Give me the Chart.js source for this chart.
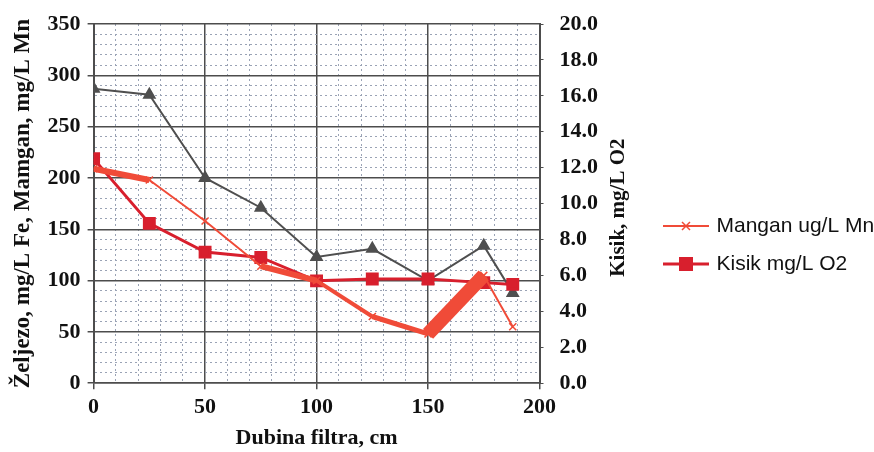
<!DOCTYPE html>
<html>
<head>
<meta charset="utf-8">
<script src="https://cdn.jsdelivr.net/npm/chart.js@4/dist/chart.umd.min.js"></script>
<style>
  html, body { margin: 0; padding: 0; background: #fff; }
  #wrap { width: 874px; height: 452px; }
</style>
</head>
<body>
<div id="wrap"><canvas id="chart" width="874" height="452"></canvas></div>
<script>
// depth of the filter (cm) and measured values
const depths = [0, 25, 50, 75, 100, 125, 150, 175, 188];
const zeljezo = [287, 281, 200, 171, 123, 131, 100, 134, 88];
const mangan = [209, 198, 158, 114, 100, 65, 48, 105, 55];
const kisik = [12.5, 8.9, 7.3, 7.0, 5.7, 5.8, 5.8, 5.6, 5.5];

const xTicks = [0, 50, 100, 150, 200];
const leftTicks = [0, 50, 100, 150, 200, 250, 300, 350];
const rightTicks = [0, 2, 4, 6, 8, 10, 12, 14, 16, 18, 20];

const MAJOR = "#4d4d4d";
const MINOR = "#9aa3b5";
const GREY = "#4f4f4f";
const MN_RED = "#f04b38";
const O2_RED = "#d81f2d";

// thick highlighter-like band on some Mangan segments (from the scan)
const manganSegWidth = [6, 2, 2, 6, 4, 5, 14, 2];

Chart.defaults.font.family = "'Liberation Serif', serif";
Chart.defaults.color = "#111";

function pts(ys) {
  return depths.map((d, i) => ({ x: d, y: ys[i] }));
}

function legendSwatch(color, style, lw, r) {
  const c = document.createElement("canvas");
  c.width = 46;
  c.height = 18;
  const g = c.getContext("2d");
  g.strokeStyle = color;
  g.fillStyle = color;
  g.lineWidth = lw;
  g.beginPath();
  g.moveTo(0, 9);
  g.lineTo(46, 9);
  g.stroke();
  if (style === "rect") {
    g.fillRect(23 - r, 9 - r, r * 2, r * 2);
  } else {
    g.lineWidth = 1.5;
    g.beginPath();
    g.moveTo(23 - r, 9 - r);
    g.lineTo(23 + r, 9 + r);
    g.moveTo(23 + r, 9 - r);
    g.lineTo(23 - r, 9 + r);
    g.stroke();
  }
  return c;
}

const isMajor = (v, step) => Math.abs(v % step) < 1e-6;

// right axis title reads bottom-to-top like the left one
const rightTitle = {
  id: "rightTitle",
  afterDraw(chart) {
    const s = chart.scales.y1;
    const ctx = chart.ctx;
    ctx.save();
    ctx.translate(s.right - 30, (s.top + s.bottom) / 2 + 4);
    ctx.rotate(-Math.PI / 2);
    ctx.font = "bold 21px 'Liberation Serif', serif";
    ctx.fillStyle = "#111";
    ctx.textAlign = "center";
    ctx.textBaseline = "middle";
    ctx.fillText("Kisik, mg/L O2", 0, 0);
    ctx.restore();
  }
};

new Chart(document.getElementById("chart"), {
  type: "line",
  data: {
    datasets: [
      {
        label: "Mangan ug/L Mn",
        data: pts(mangan),
        yAxisID: "y",
        borderColor: MN_RED,
        backgroundColor: MN_RED,
        borderWidth: 2,
        pointStyle: "crossRot",
        pointRadius: 5,
        pointBorderWidth: 1.5,
        segment: {
          borderWidth: (ctx) => manganSegWidth[ctx.p0DataIndex] || 2
        },
        swatch: legendSwatch(MN_RED, "cross", 2, 4)
      },
      {
        label: "Kisik mg/L O2",
        data: pts(kisik),
        yAxisID: "y1",
        borderColor: O2_RED,
        backgroundColor: O2_RED,
        borderWidth: 3,
        pointStyle: "rect",
        pointRadius: 7,
        swatch: legendSwatch(O2_RED, "rect", 3, 7)
      },
      {
        label: "Željezo mg/L Fe",
        data: pts(zeljezo),
        yAxisID: "y",
        borderColor: GREY,
        backgroundColor: GREY,
        borderWidth: 2,
        pointStyle: "triangle",
        pointRadius: 6
      }
    ]
  },
  options: {
    responsive: false,
    animation: false,
    layout: { padding: { left: 5, top: 24, right: 0, bottom: 0 } },
    plugins: {
      tooltip: { enabled: false },
      legend: {
        position: "right",
        maxWidth: 225,
        title: { display: true, text: "", padding: { top: 2, bottom: 0 }, font: { size: 10 } },
        labels: {
          filter: (item) => item.datasetIndex < 2,
          usePointStyle: true,
          pointStyleWidth: 40,
          padding: 17,
          color: "#111",
          font: { family: "'Liberation Sans', sans-serif", size: 21 },
          generateLabels(chart) {
            const items = Chart.defaults.plugins.legend.labels.generateLabels(chart);
            items.forEach((it) => {
              const ds = chart.data.datasets[it.datasetIndex];
              if (ds.swatch) it.pointStyle = ds.swatch;
            });
            return items;
          }
        }
      }
    },
    scales: {
      x: {
        type: "linear",
        min: 0,
        max: 200,
        ticks: {
          stepSize: 10,
          autoSkip: false,
          maxRotation: 0,
          padding: 5,
          font: { size: 22, weight: "bold" },
          callback: (v) => (xTicks.includes(v) ? String(v) : "")
        },
        grid: {
          color: (c) => (isMajor(c.tick.value, 50) ? MAJOR : MINOR),
          lineWidth: (c) => (isMajor(c.tick.value, 50) ? 1.5 : 1),
          tickColor: (c) => (isMajor(c.tick.value, 50) ? MAJOR : "transparent"),
          tickLength: 6
        },
        border: {
          color: MAJOR,
          width: 1.5,
          dash: (c) => (c.tick && !isMajor(c.tick.value, 50) ? [2, 3] : [])
        },
        title: {
          display: true,
          text: "Dubina filtra, cm",
          font: { size: 22, weight: "bold" },
          padding: { top: 0, bottom: 0 }
        }
      },
      y: {
        position: "left",
        min: 0,
        max: 350,
        ticks: {
          stepSize: 10,
          autoSkip: false,
          padding: 7,
          font: { size: 22, weight: "bold" },
          callback: (v) => (leftTicks.includes(v) ? String(v) : "")
        },
        grid: {
          color: (c) => (isMajor(c.tick.value, 50) ? MAJOR : MINOR),
          lineWidth: (c) => (isMajor(c.tick.value, 50) ? 1.5 : 1),
          tickColor: (c) => (isMajor(c.tick.value, 50) ? MAJOR : "transparent"),
          tickLength: 6
        },
        border: {
          color: MAJOR,
          width: 2,
          dash: (c) => (c.tick && !isMajor(c.tick.value, 50) ? [2, 3] : [])
        },
        title: {
          display: true,
          text: "Željezo, mg/L Fe, Mamgan, mg/L Mn",
          font: { size: 23, weight: "bold" },
          padding: { top: 4, bottom: 4 }
        }
      },
      y1: {
        position: "right",
        min: 0,
        max: 20,
        afterFit: (s) => {
          s.width += 35;
          s.paddingTop = 0;
          s.paddingBottom = 0;
        },
        ticks: {
          stepSize: 2,
          autoSkip: false,
          padding: 16,
          font: { size: 22, weight: "bold" },
          callback: (v) => (rightTicks.includes(v) ? v.toFixed(1) : "")
        },
        grid: { drawOnChartArea: false, color: MAJOR, tickLength: 4 },
        border: { color: MAJOR, width: 2 }
      }
    }
  },
  plugins: [rightTitle]
});
</script>
</body>
</html>
